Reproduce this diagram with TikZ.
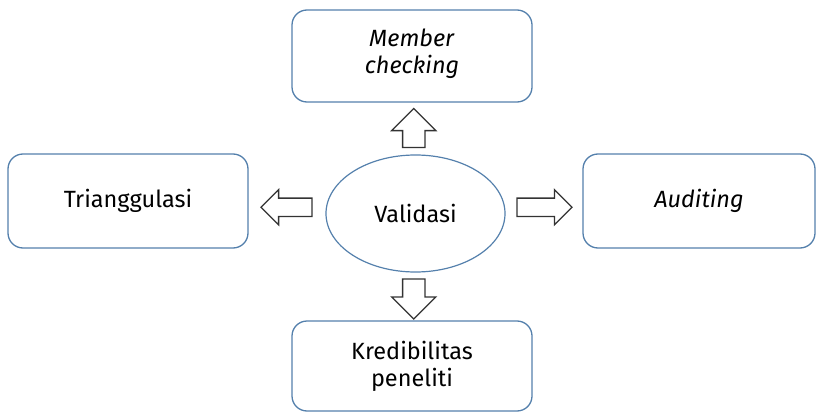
\documentclass[tikz,border=0pt]{standalone}
\usepackage{fontspec}
\setmainfont{Fira Sans}
\usepackage{tikz}
\usetikzlibrary{shapes.geometric,shapes.arrows,positioning,calc}
\definecolor{garis}{RGB}{84,128,172}
\tikzset{
	tulisan/.style={font=\fontsize{23.5}{27}\selectfont,text=black},
	kotak/.style={tulisan,draw=garis,line width=1.3pt,rounded corners=15pt,minimum width=240pt,minimum height=92pt,align=center},
	panah/.style={single arrow,draw=black!80,fill=white,line width=1.3pt,inner xsep=0pt,inner ysep=10.5pt,single arrow head extend=11pt},
	panahdatar/.style={panah,inner ysep=8.5pt,single arrow head extend=8.5pt}
}

\begin{document}
\begin{tikzpicture}[x=1pt,y=-1pt]
\useasboundingbox (0,0) rectangle (817,412);

%Pusat
\node[ellipse,draw=garis,line width=1.2pt,minimum width=179pt,minimum height=117pt,tulisan] (val) at (415.5,213.5) {Validasi};

%Kotak
\node[kotak] (mc) at (412,56) {\textit{Member}\\\textit{checking}\\[-17pt]};
\node[kotak,minimum height=94pt] (tri) at (128,201) {Trianggulasi};
\node[kotak,minimum width=232pt,minimum height=94pt] (aud) at (699,201) {\textit{Auditing}};
\node[kotak,minimum height=90pt] (kp) at (412,366) {Kredibilitas\\peneliti};

%Panah blok
\node[panah,rotate=90,minimum height=39pt] (pmc) at ($(val.north)!0.5!(mc.south)+(0,5)$) {};
\node[panah,rotate=-90,minimum height=40pt] (pkp) at ($(val.south)!0.5!(kp.north)+(0,-3)$) {};
\node[panahdatar,rotate=180,minimum height=51pt] (ptri) at ($(val.west)!0.5!(tri.east)+(4,0)$) {};
\node[panahdatar,minimum height=55pt] (paud) at ($(val.east)!0.5!(aud.west)+(-4,0)$) {};

\end{tikzpicture}
\end{document}
